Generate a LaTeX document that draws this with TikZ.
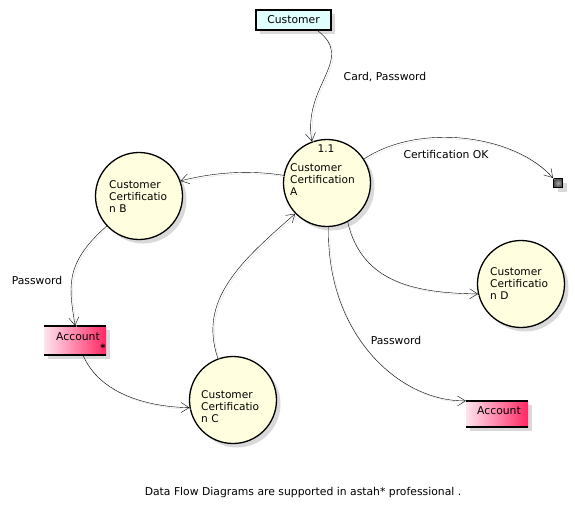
\documentclass[tikz,border=0pt]{standalone}
\usepackage{fontspec}
\setmainfont{DejaVu Sans}
\usetikzlibrary{arrows.meta,shadows}

\tikzset{
  flow/.style={-{Straight Barb[length=8pt,width=10pt]},thin,
    preaction={draw=black!12,-,transform canvas={xshift=1.5pt,yshift=-1.5pt}}},
  shade/.style={drop shadow={shadow xshift=4pt,shadow yshift=-4pt,fill=black!15,opacity=1}},
  proc/.style={circle,draw,line width=1.3pt,fill={rgb,255:red,255;green,255;blue,224},minimum size=87pt,inner sep=0pt,shade},
  ext/.style={draw,line width=1.4pt,fill={rgb,255:red,224;green,255;blue,255},minimum width=75pt,minimum height=20pt,inner sep=0pt,shade},
  store/.style={minimum width=62pt,inner sep=0pt,
    left color={rgb,255:red,255;green,228;blue,240},right color={rgb,255:red,255;green,40;blue,100},shade},
  term/.style={draw,line width=1.2pt,inner sep=0pt,minimum size=9pt,
    inner color=black!35,outer color=black!70,shade},
  txt/.style={font=\fontsize{10.6}{12}\selectfont,align=left,inner sep=0pt},
  lbl/.style={font=\fontsize{10.8}{12}\selectfont,inner sep=0pt}
}

\begin{document}
\begin{tikzpicture}[x=1pt,y=-1pt]
\useasboundingbox (0,0) rectangle (575,515);
% entities
\node[ext] (cust) at (293.5,20) {\fontsize{10.8}{12}\selectfont Customer};
\node[term] (ok) at (558,183) {};
% processes
\node[proc] (pA) at (327,183) {};
\node[proc] (pB) at (139,196) {};
\node[proc] (pC) at (233,400) {};
\node[proc] (pD) at (521,284) {};
\node[txt,anchor=north] (nA) at (326,145) {1.1};
\node[txt,anchor=north west] (tA) at (290,163) {Customer\\Certification\\A};
\node[txt,anchor=north west] (tB) at (109,180) {Customer\\Certificatio\\n B};
\node[txt,anchor=north west] (tC) at (201,390) {Customer\\Certificatio\\n C};
\node[txt,anchor=north west] (tD) at (490,267) {Customer\\Certificatio\\n D};
% stores
\node[store,minimum height=29pt] (acc1) at (75,340.5) {};
\draw[line width=1.5pt] (acc1.north west) -- (acc1.north east);
\draw[line width=1.5pt] (acc1.south west) -- (acc1.south east);
\node[lbl] (acc1t) at (78,337) {Account};
\node[lbl,font=\bfseries] (acc1s) at (103,348) {*};
\node[store,minimum height=26pt] (acc2) at (497,414) {};
\draw[line width=1.5pt] (acc2.north west) -- (acc2.north east);
\draw[line width=1.5pt] (acc2.south west) -- (acc2.south east);
\node[lbl] (acc2t) at (499,411) {Account};
% flows
\draw[flow] (cust.south east) ++(-14,0) coordinate (c0) .. controls (356,60) and (302,85) .. (pA.110);
\draw[flow] (pA.33) .. controls (420,122) and (515,135) .. (ok.north west);
\draw[flow] (pA.170) .. controls (250,170) and (215,172) .. (pB.20);
\draw[flow] (pB.223) .. controls (62,265) and (70,290) .. (acc1.north);
\draw[flow] (acc1.south) ++(8,0) coordinate (a0) .. controls (100,395) and (150,407) .. (pC.190);
\draw[flow] (pC.110) .. controls (198,300) and (240,262) .. (pA.224);
\draw[flow] (pA.-62) .. controls (362,285) and (420,293) .. (pD.193);
\draw[flow] (pA.-88) .. controls (326,335) and (400,402) .. (acc2.north west);
% labels
\node[lbl] (l1) at (385,77) {Card, Password};
\node[lbl] (l2) at (446,154) {Certification OK};
\node[lbl] (l3) at (37,280) {Password};
\node[lbl] (l4) at (396,340) {Password};
\node[lbl] (foot) at (303,493) {Data Flow Diagrams are supported in astah* professional .};
\end{tikzpicture}
\end{document}
